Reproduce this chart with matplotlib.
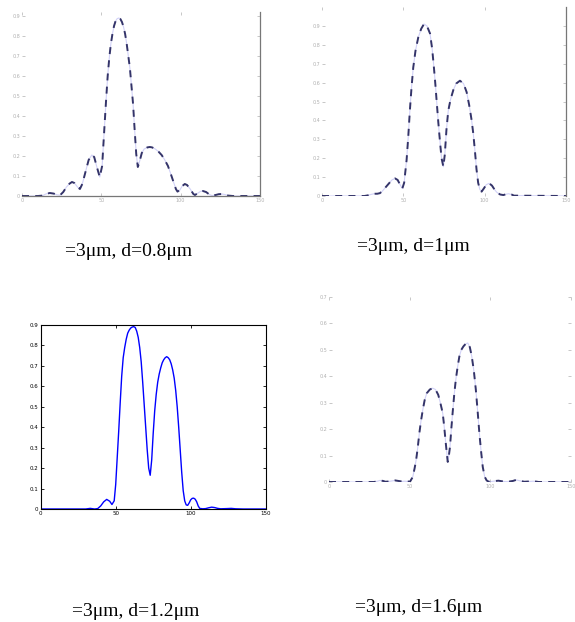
import matplotlib
matplotlib.use('Agg')
import matplotlib.pyplot as plt

# ---------------- data ----------------
captions = ["=3\u03bcm, d=0.8\u03bcm", "=3\u03bcm, d=1\u03bcm",
            "=3\u03bcm, d=1.2\u03bcm", "=3\u03bcm, d=1.6\u03bcm"]
xticks = [0, 50, 100, 150]
xticklabels = ["0", "50", "100", "150"]

# d = 0.8 um
x1 = [0, 10, 13, 15, 17.5, 20, 22, 24, 26, 28,
      30, 31.5, 33, 35, 36.5, 38, 40, 42, 44, 45.5,
      47, 49, 50.5, 52, 53, 54, 55, 56, 57, 58,
      59, 60, 61, 62, 63, 64, 65, 66, 67, 68,
      69, 70, 71, 72, 73, 74, 75.5, 77, 79, 80.6,
      82, 84, 86, 88, 90, 92, 94, 95.5, 97, 98,
      99.5, 101, 102.6, 104, 106, 108, 109, 111, 112.5, 114,
      116, 118, 119.7, 122, 124, 126, 128, 130, 133, 150]
y1 = [0, 0, 0.002, 0.01, 0.015, 0.012, 0.006, 0.004, 0.02, 0.045,
      0.062, 0.07, 0.065, 0.045, 0.035, 0.06, 0.12, 0.18, 0.205, 0.195,
      0.15, 0.095, 0.15, 0.35, 0.48, 0.6, 0.69, 0.76, 0.81, 0.85,
      0.875, 0.887, 0.89, 0.885, 0.87, 0.845, 0.81, 0.76, 0.7, 0.64,
      0.55, 0.46, 0.33, 0.21, 0.145, 0.17, 0.215, 0.235, 0.243, 0.245,
      0.243, 0.235, 0.222, 0.205, 0.18, 0.15, 0.105, 0.07, 0.035, 0.022,
      0.03, 0.05, 0.06, 0.055, 0.035, 0.01, 0.005, 0.015, 0.023, 0.025,
      0.02, 0.008, 0.002, 0.005, 0.009, 0.01, 0.007, 0.002, 0, 0]

# d = 1 um
x2 = [0, 26, 28, 30, 32, 34, 35.6, 37, 39, 41,
      43, 44.9, 46.5, 48, 49.4, 50.5, 52, 53, 54, 55,
      56.1, 57.5, 59.2, 61, 62.7, 64.5, 66.4, 67.7, 68.8, 69.7,
      70.5, 71.5, 72.5, 73.5, 74.6, 75.5, 76.5, 77.6, 79, 80.7,
      82.5, 84.8, 87, 88.9, 90.5, 92, 93, 94, 95, 96,
      97, 98.1, 99.5, 101, 102.8, 104.5, 106, 107.4, 109.5, 111.5,
      113, 114.6, 116.5, 118, 150]
y2 = [0, 0, 0.003, 0.008, 0.012, 0.012, 0.015, 0.025, 0.045, 0.065,
      0.085, 0.093, 0.085, 0.06, 0.04, 0.07, 0.19, 0.31, 0.45, 0.57,
      0.68, 0.77, 0.84, 0.885, 0.91, 0.9, 0.86, 0.78, 0.68, 0.59,
      0.5, 0.39, 0.29, 0.2, 0.155, 0.22, 0.35, 0.45, 0.51, 0.56,
      0.595, 0.61, 0.595, 0.55, 0.48, 0.4, 0.33, 0.24, 0.14, 0.07,
      0.035, 0.023, 0.04, 0.06, 0.067, 0.055, 0.035, 0.02, 0.008, 0.005,
      0.009, 0.012, 0.008, 0.002, 0]

# d = 1.2 um
x3 = [0, 30, 33, 36, 38, 40, 42, 44, 46, 47.5,
      49, 50, 51, 52, 53, 54, 55, 56, 57, 58,
      59, 60, 61, 62, 63, 64, 65, 66, 67, 68,
      69, 70, 71, 72, 73, 74, 75, 76, 77, 78,
      79, 80, 81, 82, 83, 84, 85, 86, 87, 88,
      89, 90, 91, 92, 93, 94, 95, 96, 97, 98,
      99, 100, 101, 102, 103, 104, 105, 106, 108, 110,
      112, 114, 116, 118, 120, 124, 127, 130, 135, 150]
y3 = [0, 0, 0.003, 0, 0.002, 0.015, 0.035, 0.047, 0.038, 0.022,
      0.04, 0.12, 0.25, 0.38, 0.52, 0.65, 0.74, 0.79, 0.83, 0.86,
      0.875, 0.885, 0.89, 0.892, 0.888, 0.87, 0.84, 0.79, 0.72, 0.62,
      0.51, 0.4, 0.29, 0.2, 0.165, 0.24, 0.37, 0.48, 0.56, 0.62,
      0.66, 0.69, 0.715, 0.73, 0.74, 0.745, 0.74, 0.73, 0.71, 0.68,
      0.64, 0.58, 0.5, 0.4, 0.29, 0.18, 0.09, 0.04, 0.02, 0.018,
      0.03, 0.045, 0.052, 0.053, 0.048, 0.035, 0.015, 0.003, 0.001, 0.002,
      0.006, 0.009, 0.007, 0.003, 0.001, 0.002, 0.003, 0.001, 0, 0]

# d = 1.6 um
x4 = [0, 28, 30, 31.6, 33.5, 35, 37, 39, 41, 43,
      45, 47, 49, 50.2, 51.9, 53, 54, 55, 56, 57,
      58.1, 59.3, 60.6, 62.5, 64.3, 66, 67.7, 69, 70.5, 71.4,
      72.2, 73, 73.6, 74.3, 75, 75.8, 76.6, 77.6, 78.6, 79.7,
      80.8, 82, 83.3, 84.6, 86, 87.3, 88.5, 89.8, 91, 92.1,
      93.2, 94.2, 95.3, 96.5, 97.7, 99, 102, 105, 108, 111,
      114, 116, 118, 121, 124, 127, 130, 150]
y4 = [0, 0, 0.003, 0.006, 0.004, 0.001, 0.002, 0.004, 0.006, 0.004,
      0.002, 0.003, 0.002, 0.001, 0.019, 0.05, 0.083, 0.13, 0.185, 0.23,
      0.272, 0.31, 0.336, 0.35, 0.355, 0.35, 0.33, 0.3, 0.26, 0.21,
      0.158, 0.11, 0.076, 0.1, 0.133, 0.2, 0.26, 0.33, 0.387, 0.435,
      0.475, 0.5, 0.513, 0.522, 0.526, 0.51, 0.475, 0.42, 0.35, 0.27,
      0.185, 0.12, 0.057, 0.02, 0.006, 0.001, 0.003, 0.005, 0.002, 0.001,
      0.004, 0.008, 0.005, 0.001, 0.002, 0.003, 0, 0]

yticks1 = [0, 0.1, 0.2, 0.3, 0.4, 0.5, 0.6, 0.7, 0.8, 0.9]
yticks4 = [0, 0.1, 0.2, 0.3, 0.4, 0.5, 0.6, 0.7]

for xs, ys in [(x1, y1), (x2, y2), (x3, y3), (x4, y4)]:
    assert len(xs) == len(ys), (len(xs), len(ys))

# ---------------- figure ----------------
W, H = 575, 622
fig = plt.figure(figsize=(W / 100, H / 100), dpi=100)
fig.patch.set_facecolor('white')


def rect(l, r, t, b):
    return [l / W, 1 - b / H, (r - l) / W, (b - t) / H]


faded_under = dict(color='#4a4ae0', lw=0.8, alpha=0.25)
faded_line = dict(color='#22225a', lw=1.4, ls=(0, (3.6, 3.2)), alpha=0.9)
faded_tick = '#b0b0b0'


def faded_axes(ax, ylim, yticks, spines_on):
    ax.set_xlim(0, 150)
    ax.set_ylim(*ylim)
    ax.set_xticks(xticks)
    ax.set_xticklabels(xticklabels)
    ax.set_yticks(yticks)
    ax.set_yticklabels([("%g" % v) for v in yticks])
    for s in ['left', 'right', 'top', 'bottom']:
        ax.spines[s].set_visible(s in spines_on)
        ax.spines[s].set_color('#777777')
        ax.spines[s].set_linewidth(0.9)
    ax.tick_params(direction='in', length=2, width=0.5, colors=faded_tick,
                   labelsize=3.5, pad=1.5, top=True, right=True)
    ax.patch.set_alpha(0)


def faded_plot(ax, xs, ys):
    ax.plot(xs, ys, **faded_under)
    ax.plot(xs, ys, **faded_line)


# panel 1
ax1 = fig.add_axes(rect(22, 260, 12, 196))
faded_plot(ax1, x1, y1)
faded_axes(ax1, (0, 0.92), yticks1, ['right', 'bottom'])

# panel 2
ax2 = fig.add_axes(rect(322, 566, 7, 196))
faded_plot(ax2, x2, y2)
faded_axes(ax2, (0, 1.0), yticks1, ['right'])

# panel 3 (clear MATLAB-style plot)
ax3 = fig.add_axes(rect(40.7, 265.7, 325, 509))
ax3.plot(x3, y3, color='#0000ff', lw=1.0)
ax3.set_xlim(0, 150)
ax3.set_ylim(0, 0.9)
ax3.set_xticks(xticks)
ax3.set_xticklabels(xticklabels)
ax3.set_yticks(yticks1)
ax3.set_yticklabels([("%g" % v) for v in yticks1])
for s in ax3.spines.values():
    s.set_linewidth(0.8)
    s.set_color('black')
ax3.tick_params(direction='in', length=2.5, width=0.6, labelsize=4,
                pad=1.5, top=True, right=True, colors='black')

# panel 4
ax4 = fig.add_axes(rect(329, 571, 297, 482))
faded_plot(ax4, x4, y4)
faded_axes(ax4, (0, 0.7), yticks4, [])

# captions
cap_pos = [(129, 252), (413, 247), (136, 611), (419, 607)]
for (cx, cy), txt in zip(cap_pos, captions):
    fig.text(cx / W, 1 - cy / H, txt, ha='center', va='center',
             fontsize=14, family='Liberation Serif', color='black')

fig.savefig('out.png', dpi=100, facecolor='white')
